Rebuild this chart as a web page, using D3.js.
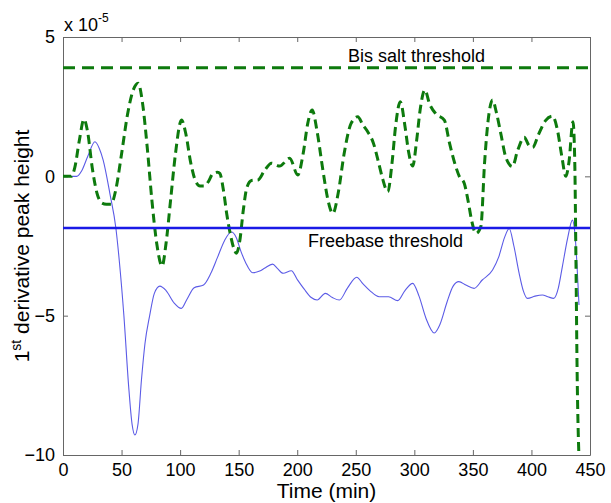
<!DOCTYPE html>
<html>
<head>
<meta charset="utf-8">
<script src="https://cdn.jsdelivr.net/npm/d3@7"></script>
<style>
  body { margin: 0; background: #fff; }
  text { font-family: "Liberation Sans", Arial, sans-serif; }
</style>
</head>
<body>
<div id="container"></div>
<script>
// values (y in units of 1e-5)
const freebaseTime = [0, 7, 11.7, 16, 21, 27.3, 31, 34.3, 40, 45.2, 48, 52, 56, 59, 61.4, 64, 67, 70, 74, 78, 82.7, 88, 95, 101, 106, 112, 120, 126, 132, 138, 143.8, 148, 152, 156, 162, 168, 172, 179, 183, 188, 195, 200, 206, 212, 217, 224, 230, 236, 243, 250.8, 256, 262, 270, 278, 285.8, 292, 298.6, 304, 310, 317, 322, 328, 333, 338, 344, 351, 358, 366.8, 372, 377, 381, 385, 389.5, 393, 396.6, 403, 409.4, 414, 419, 423, 426.4, 431, 435, 437, 440.6];
const freebaseDeriv = [0, 0, 0, 0.2, 0.7, 1.24, 1.0, 0.58, -0.61, -1.87, -3.0, -5.0, -7.5, -8.9, -9.28, -8.9, -7.3, -6.0, -5.0, -4.2, -3.94, -4.1, -4.55, -4.74, -4.4, -4.0, -3.9, -3.5, -2.9, -2.3, -2.0, -2.2, -2.7, -3.1, -3.46, -3.4, -3.3, -3.15, -3.3, -3.48, -3.39, -3.7, -4.05, -4.35, -4.44, -4.2, -4.35, -4.44, -4.0, -3.62, -3.85, -4.1, -4.32, -4.32, -4.46, -4.1, -3.84, -4.3, -5.1, -5.62, -5.3, -4.5, -3.95, -3.78, -3.9, -4.02, -3.72, -3.36, -2.9, -2.2, -1.87, -2.5, -3.48, -4.1, -4.38, -4.3, -4.26, -4.32, -4.38, -4.0, -3.24, -2.2, -1.57, -2.0, -4.62];

const bisTime = [0, 7, 10, 14, 17.9, 21, 25, 29, 33, 37, 41, 45, 50, 55, 60, 64.2, 68, 72, 76, 80, 84.6, 88, 92, 96, 101.2, 105, 109, 113, 117, 120.5, 124, 128, 132, 134, 137, 140, 143, 146, 148, 151, 154, 157, 161, 166.5, 172, 178, 185, 193.5, 200.5, 205, 209, 212.8, 217, 222, 226, 230.4, 235, 240, 246, 251.7, 256, 260.2, 265, 270, 273, 277.3, 281, 284, 288, 292, 295, 298.6, 302, 305, 309, 313, 318.4, 325.6, 330, 335, 338.4, 342.6, 346, 349, 352.6, 356.8, 360, 363, 366.8, 370, 374, 378, 383.8, 388, 393.8, 398, 401, 406, 412, 418, 422, 426, 429.3, 432, 435.5, 437, 438, 439, 440.5];
const bisDeriv = [0, 0, 0.3, 1.3, 2.05, 1.6, 0.3, -0.6, -0.95, -1.0, -1.0, -0.5, 0.8, 2.2, 3.1, 3.34, 2.6, 1.0, -0.9, -2.4, -3.22, -2.4, -0.8, 0.8, 2.02, 1.5, 0.5, -0.15, -0.35, -0.35, -0.2, 0.1, 0.15, 0.1, -0.5, -1.4, -2.1, -2.6, -2.76, -2.3, -1.2, -0.4, -0.15, -0.13, 0.2, 0.47, 0.37, 0.65, 0.05, 0.8, 1.9, 2.38, 1.6, 0.2, -0.8, -1.33, -0.6, 0.8, 1.9, 2.14, 1.85, 1.6, 1.2, 0.4, -0.1, -0.55, 0.5, 1.8, 2.68, 1.8, 0.9, 0.37, 1.3, 2.4, 3.1, 2.6, 2.24, 2.02, 1.2, 0.4, 0, -0.25, -0.9, -1.6, -2.05, -1.8, 0.5, 2.0, 2.74, 2.3, 1.5, 0.7, 0.35, 0.9, 1.4, 1.1, 1.04, 1.5, 2.0, 2.16, 1.7, 0.7, 0, 0.5, 1.96, 0.5, -3, -7, -10];

const bisThreshold = 3.9;
const freebaseThreshold = -1.85;

const xTicks = [0, 50, 100, 150, 200, 250, 300, 350, 400, 450];
const yTicks = [-10, -5, 0, 5];

// chart dimensions
const width = 611;
const height = 503;
const marginTop = 37;
const marginRight = 21;
const marginBottom = 48;
const marginLeft = 63;

const x = d3.scaleLinear().domain([0, 450]).range([marginLeft, width - marginRight]);
const y = d3.scaleLinear().domain([-10, 5]).range([height - marginBottom, marginTop]);

const svg = d3.create("svg")
    .attr("width", width)
    .attr("height", height);

svg.append("defs").append("clipPath")
    .attr("id", "plot-clip")
    .append("rect")
    .attr("x", marginLeft)
    .attr("y", marginTop)
    .attr("width", width - marginLeft - marginRight)
    .attr("height", height - marginTop - marginBottom);

const axisColor = "#666";

// axes, ticks pointing inward, box on all sides
const styleAxis = g => {
    g.select(".domain").attr("stroke", axisColor);
    g.selectAll(".tick line").attr("stroke", axisColor);
    g.selectAll(".tick text").attr("fill", "#000").attr("font-size", "18px");
};

svg.append("g")
    .attr("transform", `translate(0,${height - marginBottom})`)
    .call(d3.axisBottom(x).tickValues(xTicks).tickSize(-5).tickSizeOuter(0).tickPadding(8))
    .call(styleAxis);

svg.append("g")
    .attr("transform", `translate(0,${marginTop})`)
    .call(d3.axisTop(x).tickValues(xTicks).tickSize(-5).tickSizeOuter(0).tickFormat(""))
    .call(styleAxis);

svg.append("g")
    .attr("transform", `translate(${marginLeft},0)`)
    .call(d3.axisLeft(y).tickValues(yTicks).tickSize(-5).tickSizeOuter(0).tickPadding(8))
    .call(styleAxis);

svg.append("g")
    .attr("transform", `translate(${width - marginRight},0)`)
    .call(d3.axisRight(y).tickValues(yTicks).tickSize(-5).tickSizeOuter(0).tickFormat(""))
    .call(styleAxis);

const plot = svg.append("g").attr("clip-path", "url(#plot-clip)");

const line = d3.line()
    .x(d => x(d[0]))
    .y(d => y(d[1]))
    .curve(d3.curveMonotoneX);

// freebase curve
plot.append("path")
    .datum(d3.zip(freebaseTime, freebaseDeriv))
    .attr("fill", "none")
    .attr("stroke", "#5b5be6")
    .attr("stroke-width", 1.1)
    .attr("d", line);

// bis salt curve
plot.append("path")
    .datum(d3.zip(bisTime, bisDeriv))
    .attr("fill", "none")
    .attr("stroke", "#0d7a0d")
    .attr("stroke-width", 3)
    .attr("stroke-dasharray", "9,5")
    .attr("d", line);

// thresholds
plot.append("line")
    .attr("x1", x(0)).attr("x2", x(450))
    .attr("y1", y(bisThreshold)).attr("y2", y(bisThreshold))
    .attr("stroke", "#0d7a0d")
    .attr("stroke-width", 3)
    .attr("stroke-dasharray", "12,7");

plot.append("line")
    .attr("x1", x(0)).attr("x2", x(450))
    .attr("y1", y(freebaseThreshold)).attr("y2", y(freebaseThreshold))
    .attr("stroke", "#1a1ae6")
    .attr("stroke-width", 2.5);

svg.append("text")
    .attr("x", 348)
    .attr("y", 62)
    .attr("font-size", "18px")
    .text("Bis salt threshold");

svg.append("text")
    .attr("x", 308)
    .attr("y", 247)
    .attr("font-size", "18px")
    .text("Freebase threshold");

// exponent label
const expo = svg.append("text")
    .attr("x", 64)
    .attr("y", 31)
    .attr("font-size", "18px");
expo.append("tspan").text("x 10");
expo.append("tspan").attr("font-size", "12px").attr("dy", -9).text("-5");

// axis labels
svg.append("text")
    .attr("x", (marginLeft + width - marginRight) / 2)
    .attr("y", 498)
    .attr("text-anchor", "middle")
    .attr("font-size", "21px")
    .text("Time (min)");

const ylab = svg.append("text")
    .attr("transform", `translate(29,${(marginTop + height - marginBottom) / 2}) rotate(-90)`)
    .attr("text-anchor", "middle")
    .attr("font-size", "21px");
ylab.append("tspan").text("1");
ylab.append("tspan").attr("font-size", "14px").attr("dy", -8).text("st");
ylab.append("tspan").attr("dy", 8).text(" derivative peak height");

d3.select("#container").append(() => svg.node());
</script>
</body>
</html>
